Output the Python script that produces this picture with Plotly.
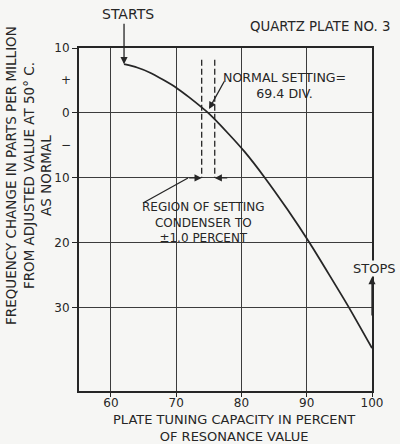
import plotly.graph_objects as go

# ---------------- data ----------------
cap_pct = [62.0, 64.0, 66.0, 68.0, 70.0, 72.0, 74.9, 78.0, 80.5, 83.6, 87.0, 90.5, 93.5, 96.5, 100.0]
freq_change = [7.5, 7.0, 6.2, 5.1, 3.9, 2.4, 0.0, -3.2, -6.0, -10.0, -14.8, -20.1, -25.0, -30.0, -36.2]

region_bounds = [73.9, 75.9]        # ±1.0 percent setting region
region_span = [8.2, -10.0]          # vertical extent of the dashed guides

x_tick_vals = [60, 70, 80, 90, 100]
x_tick_text = ["60", "70", "80", "90", "100"]
y_tick_vals = [10, 0, -10, -20, -30]
y_tick_text = ["10", "0", "10", "20", "30"]
sign_vals = [5, -5]
sign_text = ["+", "\u2212"]

X_RANGE = [55.1, 100]
Y_RANGE = [-42.8, 10]

# ---------------- layout geometry ----------------
W, H = 400, 444
PL, PT, PR, PB = 79, 48, 372, 391          # plot area in pixels
ML, MT, MR, MB = PL, PT, W - PR, H - PB

INK = "#262626"
BG = "#f6f6f4"
FONT = "DejaVu Sans"


def px2x(px):
    return (px - PL) / (PR - PL)


def py2y(py):
    return (PB - py) / (PB - PT)


def xd(px):
    return X_RANGE[0] + px2x(px) * (X_RANGE[1] - X_RANGE[0])


def yd(py):
    return Y_RANGE[0] + py2y(py) * (Y_RANGE[1] - Y_RANGE[0])


fig = go.Figure()

# curve
fig.add_trace(go.Scatter(
    x=cap_pct, y=freq_change, mode="lines",
    line=dict(color=INK, width=1.8, shape="spline", smoothing=0.6),
    hoverinfo="skip", showlegend=False))

# dashed region guides
for xb in region_bounds:
    fig.add_trace(go.Scatter(
        x=[xb, xb], y=region_span, mode="lines",
        line=dict(color=INK, width=1.3, dash="6px,3px"),
        hoverinfo="skip", showlegend=False))

ann = []


def text(px, py, s, size=12, angle=0, **kw):
    ann.append(dict(x=px2x(px), y=py2y(py), xref="paper", yref="paper", text=s,
                    showarrow=False, textangle=angle, borderpad=0,
                    font=dict(family=FONT, size=size, color=INK),
                    xanchor="center", yanchor="middle", align="center", **kw))


def arrow(hx, hy, ax, ay):
    ann.append(dict(x=hx, y=hy, xref="x", yref="y", text="", showarrow=True,
                    ax=ax, ay=ay, arrowhead=2, arrowsize=1.1, arrowwidth=1.3,
                    arrowcolor=INK, standoff=0, startstandoff=0))


# y sign labels
for v, t in zip(sign_vals, sign_text):
    ann.append(dict(x=0, y=v, xref="paper", yref="y", text=t, showarrow=False,
                    xanchor="right", yanchor="middle", xshift=-6,
                    font=dict(family=FONT, size=12, color=INK)))

# titles / labels
text(320, 27, "QUARTZ PLATE NO. 3", size=13.3)
text(128, 14, "STARTS", size=14)
arrow(cap_pct[0], freq_change[0], 0, -42)

text(284, 86, "NORMAL SETTING=<br>69.4 DIV.", size=12.6)
arrow(xd(209), yd(109), 16, -29)

text(203, 222, "REGION OF SETTING<br>CONDENSER TO<br>\u00b11.0 PERCENT", size=12)
shapes = [dict(type="line", xref="x", yref="y",
               x0=xd(143), y0=yd(203), x1=xd(188), y1=yd(178),
               line=dict(color=INK, width=1.3))]
arrow(region_bounds[0], region_span[1], -14, 0)
arrow(region_bounds[1], region_span[1], 14, 0)

text(374, 268, "STOPS", size=13, bgcolor=BG)
arrow(X_RANGE[1], yd(277), 0, 40)

# axis titles
text(28, 176, "FREQUENCY CHANGE IN PARTS PER MILLION<br>FROM ADJUSTED VALUE AT 50\u00b0 C.<br>AS NORMAL",
     size=13.5, angle=-90)
text(234, 427.5, "PLATE TUNING CAPACITY IN PERCENT<br>OF RESONANCE VALUE", size=13)

axis_common = dict(showgrid=True, gridcolor="#3c3c3c", gridwidth=1.4,
                   showline=True, linecolor=INK, linewidth=2, mirror=True,
                   ticks="outside", tickcolor=INK, tickwidth=1.3,
                   zeroline=False, fixedrange=True,
                   tickfont=dict(family=FONT, size=12, color=INK))

fig.update_layout(
    width=W, height=H,
    margin=dict(l=ML, r=MR, t=MT, b=MB, pad=0),
    paper_bgcolor=BG, plot_bgcolor=BG,
    font=dict(family=FONT, size=12, color=INK),
    annotations=ann, shapes=shapes,
    xaxis=dict(range=X_RANGE, tickvals=x_tick_vals, ticktext=x_tick_text,
               ticklen=4, ticklabelstandoff=-4, **axis_common),
    yaxis=dict(range=Y_RANGE, tickvals=y_tick_vals, ticktext=y_tick_text,
               ticklen=5, **axis_common),
)

fig.write_html("out.html", config={"displayModeBar": False},
               post_script="document.body.style.margin='0px';")
